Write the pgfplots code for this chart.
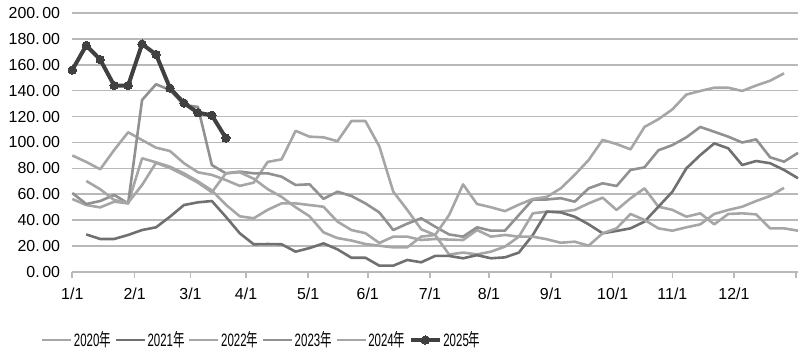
\documentclass[border=0pt]{standalone}
\usepackage{fontspec}
\setmainfont{Liberation Sans}
\newfontfamily\cjk{Noto Sans CJK SC}
\usepackage{graphicx}
\usepackage{pgfplots}
\pgfplotsset{compat=1.18}
\definecolor{gridc}{RGB}{185,185,185}
\definecolor{c20}{RGB}{166,166,166}
\definecolor{c21}{RGB}{112,112,112}
\definecolor{c22}{RGB}{166,166,166}
\definecolor{c23}{RGB}{145,145,145}
\definecolor{c24}{RGB}{166,166,166}
\definecolor{c25}{RGB}{64,64,64}
\newcommand{\yr}[1]{\scalebox{0.64}[1]{#1{\cjk 年}}}
\begin{document}
\begin{tikzpicture}
\useasboundingbox (0,0) rectangle (807bp,359bp);
\begin{axis}[
  at={(72.3bp,87bp)}, anchor=south west,
  scale only axis, width=725.7bp, height=259bp,
  xmin=0, xmax=52, ymin=0, ymax=200,
  axis x line*=bottom, axis y line*=left,
  x axis line style={gridc, line width=1.6bp, -},
  y axis line style={draw=none},
  ymajorgrids, grid style={gridc, line width=1.6bp},
  ytick={0,20,...,200},
  yticklabels={0.\,00,20.\,00,40.\,00,60.\,00,80.\,00,100.\,00,120.\,00,140.\,00,160.\,00,180.\,00,200.\,00},
  xtick={0,4.47,8.47,12.45,16.9,21.17,25.63,29.86,34.3,38.72,43.0,47.41,51.85},
  xticklabels={1/1,2/1,3/1,4/1,5/1,6/1,7/1,8/1,9/1,10/1,11/1,12/1,{}},
  xtick align=outside, major tick length=6bp,
  xtick style={gridc, line width=1.6bp},
  ytick style={draw=none},
  tick label style={font=\fontsize{16}{18}\selectfont, inner sep=0pt},
  yticklabel style={xshift=-12bp},
  xticklabel style={yshift=-10bp},
  legend style={at={(0.2605,-0.2625)}, anchor=center, draw=none, fill=none,
    font=\fontsize{18}{18}\selectfont, legend columns=6,
    nodes={inner sep=1.5bp},
    /tikz/every even column/.append style={column sep=2bp}},
  legend image code/.code={\draw[mark repeat=2,mark phase=2,#1] plot coordinates {(0bp,0bp) (14.5bp,0bp) (29bp,0bp)};},
  clip=false,
]
% 2020
\addplot[c20, line width=2.6bp, line join=round] coordinates {
(0,90)(1,85)(2,79.3)(3,94.2)(4,107.9)(5,101.9)(6,96)(7,93.4)(8,84)(9,77)(10,75)(11,71)(12,66.5)(13,69)(14,85)(15,87)(16,109)(17,104.5)(18,104)(19,101)(20,116.6)(21,116.6)(22,97)(23,62)(24,48)(25,33)(26,28.6)(27,13.5)(28,15)(29,13.6)(30,15.7)(31,19.6)(32,27.3)(33,45.3)(34,46.6)(35,46.6)(36,47.9)(37,53)(38,57.4)(39,47.9)(40,56.9)(41,64.6)(42,50.4)(43,48)(44,42.7)(45,45.3)(46,36.8)(47,44.8)(48,45.3)(49,44.5)(50,33.7)(51,33.7)(52,31.9)};
\addlegendentry{\yr{2020}}
% 2021
\addplot[c21, line width=2.6bp, line join=round] coordinates {
(1,29)(2,25.5)(3,25.5)(4,28.6)(5,32.4)(6,34.5)(7,42.7)(8,51.7)(9,53.8)(10,54.8)(11,42.7)(12,29.9)(13,21.4)(14,21.6)(15,21.4)(16,15.7)(17,18.5)(18,22.1)(19,17.5)(20,11)(21,11)(22,4.9)(23,4.9)(24,9.3)(25,7.5)(26,12.4)(27,12.4)(28,10.6)(29,13)(30,10.6)(31,11.3)(32,15)(33,28.6)(34,46.6)(35,46)(36,42.7)(37,36.8)(38,29.9)(39,31.7)(40,33.7)(41,38.9)(42,50.4)(43,62)(44,80)(45,90.3)(46,99.3)(47,95.5)(48,82.6)(49,85.7)(50,84)(51,78.8)(52,72.4)};
\addlegendentry{\yr{2021}}
% 2022
\addplot[c22, line width=2.6bp, line join=round] coordinates {
(0,56.4)(1,51.7)(2,49.9)(3,54.3)(4,53)(5,87.8)(6,84.7)(7,81.3)(8,76.2)(9,70)(10,63)(11,52)(12,43)(13,41.5)(14,48)(15,53)(16,53)(17,51.7)(18,50.4)(19,38.9)(20,32.4)(21,30)(22,22.4)(23,27.3)(24,27.3)(25,24.7)(26,25.5)(27,25)(28,24.7)(29,32.4)(30,27.3)(31,28.6)(32,27.3)(33,27.3)(34,25.3)(35,22.6)(36,23.4)(37,20.3)(38,29.9)(39,33.7)(40,44.8)(41,40.2)(42,33.7)(43,31.9)(44,34.5)(45,36.8)(46,44.8)(47,47.9)(48,50.4)(49,54.8)(50,58.7)(51,65)};
\addlegendentry{\yr{2022}}
% 2023
\addplot[c23, line width=2.6bp, line join=round] coordinates {
(0,61)(1,52.5)(2,54.8)(3,59.5)(4,53)(5,132.8)(6,145)(7,140.5)(8,129)(9,127.5)(10,82.6)(11,76.2)(12,77.5)(13,76.2)(14,76.2)(15,73.6)(16,67.2)(17,67.7)(18,56.5)(19,62)(20,58.7)(21,53)(22,46)(23,32.4)(24,37.3)(25,41.5)(26,35)(27,29)(28,27.3)(29,34.5)(30,31.9)(31,31.9)(32,44)(33,56)(34,56)(35,57)(36,54.3)(37,64.6)(38,68.5)(39,66.4)(40,78.8)(41,80.8)(42,94)(43,98)(44,104)(45,112)(46,108.3)(47,104.5)(48,100)(49,102.4)(50,88.6)(51,85.2)(52,92)};
\addlegendentry{\yr{2023}}
% 2024
\addplot[c24, line width=2.6bp, line join=round] coordinates {
(1,70.3)(2,63.9)(3,55.6)(4,53.5)(5,67.2)(6,84.3)(7,80.3)(8,74.9)(9,69)(10,61.6)(11,76.2)(12,77)(13,72)(14,64)(15,58)(16,50)(17,43)(18,30.6)(19,26.2)(20,24.3)(21,21.6)(22,20.3)(23,19)(24,19)(25,27.3)(26,28.6)(27,44)(28,67.7)(29,52.5)(30,50)(31,47)(32,52)(33,56.4)(34,58)(35,64.6)(36,75)(37,86.5)(38,102)(39,98.8)(40,94.7)(41,112)(42,118)(43,125.6)(44,137)(45,139.8)(46,142.3)(47,142.3)(48,139.8)(49,144)(50,147.7)(51,153.4)};
\addlegendentry{\yr{2024}}
% 2025
\addplot[c25, line width=4bp, line join=round, mark=*, mark size=4.2bp, mark options={solid, fill=c25, draw=c25, line width=0bp}] coordinates {
(0,156)(1,175)(2,164)(3,144)(4,144)(5,176)(6,168)(7,142)(8,130.5)(9,123)(10,121)(11,103.5)};
\addlegendentry{\yr{2025}}
\end{axis}
\end{tikzpicture}
\end{document}
